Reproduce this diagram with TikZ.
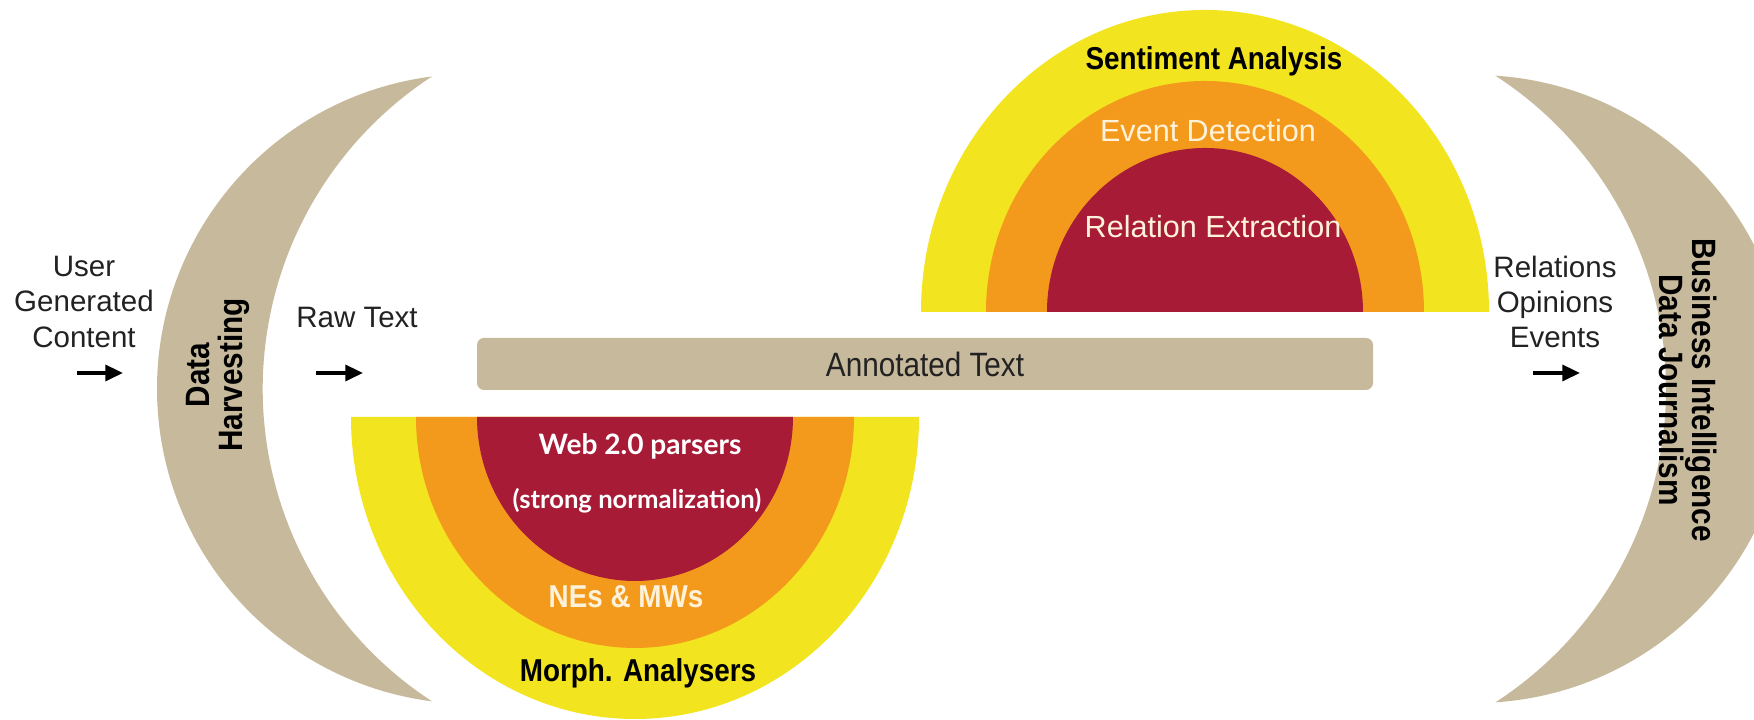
\documentclass[tikz,border=0pt]{standalone}
\usepackage{fontspec}
\setmainfont{Liberation Sans}
\newfontfamily\narrowsans[FakeStretch=0.88]{Liberation Sans}
\newfontfamily\humansans{Lato}
\usetikzlibrary{arrows.meta}

\definecolor{tanband}{HTML}{C7B99C}
\definecolor{sunyellow}{HTML}{F2E41E}
\definecolor{deeporange}{HTML}{F39A1D}
\definecolor{winered}{HTML}{A71B37}
\definecolor{creamtext}{HTML}{FFF2DA}
\definecolor{inktext}{HTML}{222222}

\tikzset{flowlabel/.style = {align = center,
                             text = inktext,
                             inner sep = 0pt,
                             font = \fontsize{8.4}{10}\selectfont},
         sidelabel/.style = {align = center,
                             text = black,
                             inner sep = 0pt,
                             font = \narrowsans\bfseries\fontsize{9.6}{9.4}\selectfont},
         ringlabel/.style = {inner sep = 0pt,
                             font = \narrowsans\bfseries\fontsize{9}{9}\selectfont},
         stagelabel/.style = {inner sep = 0pt,
                             text = creamtext,
                             font = \fontsize{8.7}{9}\selectfont},
         parserlabel/.style = {inner sep = 0pt,
                             text = white,
                             font = \humansans\bfseries\fontsize{8}{9}\selectfont},
         annotbar/.style = {shape = rectangle,
                             fill = tanband,
                             rounded corners = 2pt,
                             minimum width = 8.96cm,
                             minimum height = 0.52cm,
                             text = inktext,
                             font = \narrowsans\fontsize{9.6}{10}\selectfont},
         flowarrow/.style = {-{Triangle[length = 5pt, width = 4.5pt]},
                             line width = 1pt}}

\begin{document}
\begin{tikzpicture}
	\useasboundingbox (0,0) rectangle (17.54,7.2);
	\clip (0,0) rectangle (17.54,7.2);

	% crescents
	\fill[tanband] (4.32,6.435) arc[start angle=97.3, end angle=262.7, radius=3.15]
	               arc[start angle=236.9, end angle=123.1, radius=3.73] -- cycle;
	\fill[tanband] (14.954,6.443) arc[start angle=86.27, end angle=-86.27, radius=3.14]
	               arc[start angle=-57.14, end angle=57.14, radius=3.73] -- cycle;

	% upper half rings
	\fill[sunyellow] (9.21,4.08) arc[start angle=180, end angle=0, x radius=2.84, y radius=3.02] -- cycle;
	\fill[deeporange] (9.86,4.08) arc[start angle=180, end angle=0, x radius=2.19, y radius=2.31] -- cycle;
	\fill[winered] (10.47,4.08) arc[start angle=180, end angle=0, x radius=1.58, y radius=1.64] -- cycle;

	% lower half rings
	\fill[sunyellow] (3.51,3.03) arc[start angle=180, end angle=360, x radius=2.84, y radius=3.02] -- cycle;
	\fill[deeporange] (4.16,3.03) arc[start angle=180, end angle=360, x radius=2.19, y radius=2.31] -- cycle;
	\fill[winered] (4.77,3.03) arc[start angle=180, end angle=360, x radius=1.58, y radius=1.64] -- cycle;

	\node[annotbar] (annot) at (9.25,3.56) {Annotated Text};

	\node[flowlabel] (ugc) at (0.84,4.18) {User\\Generated\\Content};
	\node[flowlabel] (raw) at (3.57,4.02) {Raw Text};
	\node[flowlabel] (roe) at (15.55,4.18) {Relations\\Opinions\\Events};

	\node[sidelabel, rotate=90] (harvest) at (2.18,3.45) {Data\\Harvesting};
	\node[sidelabel, rotate=-90] (business) at (16.88,3.30) {Business Intelligence\\Data Journalism};

	\node[ringlabel] (senti) at (12.14,6.59) {Sentiment Analysis};
	\node[stagelabel] (event) at (12.08,5.89) {Event Detection};
	\node[stagelabel] (relex) at (12.13,4.93) {Relation Extraction};

	\node[parserlabel] (web) at (6.40,2.74) {Web 2.0 parsers};
	\node[parserlabel, font=\humansans\bfseries\fontsize{7.3}{8}\selectfont] (norm) at (6.37,2.19) {(strong normalization)};
	\node[ringlabel, text=creamtext] (nes) at (6.26,1.23) {NEs \& MWs};
	\node[ringlabel] (morph) at (6.38,0.47) {Morph. Analysers};

	% arrows
	\coordinate (a1) at (0.77,3.47);
	\coordinate (a2) at (1.23,3.47);
	\coordinate (b1) at (3.16,3.47);
	\coordinate (b2) at (3.63,3.47);
	\coordinate (c1) at (15.33,3.47);
	\coordinate (c2) at (15.80,3.47);
	\draw[flowarrow] (a1) -- (a2);
	\draw[flowarrow] (b1) -- (b2);
	\draw[flowarrow] (c1) -- (c2);
\end{tikzpicture}
\end{document}
